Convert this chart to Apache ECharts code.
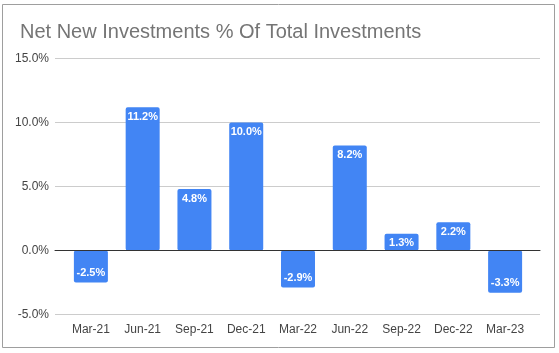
<!DOCTYPE html>
<html><head><meta charset="utf-8">
<script src="https://cdn.jsdelivr.net/npm/echarts@6/dist/echarts.min.js"></script>
<style>html,body{margin:0;padding:0;background:#fff}#c{width:559px;height:353px}</style>
</head><body><div id="c"></div>
<script>
const categories = ['Mar-21','Jun-21','Sep-21','Dec-21','Mar-22','Jun-22','Sep-22','Dec-22','Mar-23'];
const values = [-2.5, 11.2, 4.8, 10.0, -2.9, 8.2, 1.3, 2.2, -3.3];
const yTicks = [-5, 0, 5, 10, 15];

const chart = echarts.init(document.getElementById('c'), null, {renderer:'canvas'});
const font = '"Liberation Sans", Arial, sans-serif';
const TOP = 58.5, BOTTOM = 353 - 314.5;
chart.setOption({
  animation: false,
  title: {
    text: 'Net New Investments % Of Total Investments',
    left: 15, top: 17,
    textStyle: {fontFamily: font, fontSize: 20, fontWeight: 'normal', color: '#757575'}
  },
  graphic: [{
    type: 'rect', shape: {x: 2.5, y: 4.5, width: 552, height: 343},
    style: {fill: 'none', stroke: '#9e9e9e', lineWidth: 1}, silent: true, z: -1
  }],
  grid: [
    {left: 55, right: 19, top: TOP, bottom: BOTTOM},
    {left: 65, right: 28, top: TOP, bottom: BOTTOM}
  ],
  xAxis: [
    {gridIndex: 0, type: 'category', data: [''], axisLine: {show: true, onZero: true, lineStyle: {color: '#333', width: 1}},
     axisTick: {show: false}, axisLabel: {show: false}, z: 5},
    {gridIndex: 1, type: 'category', data: categories, axisLine: {show: false}, axisTick: {show: false},
     axisLabel: {fontFamily: font, fontSize: 12, color: '#444', margin: 9}}
  ],
  yAxis: [
    {gridIndex: 0, type: 'value', min: -5, max: 15, interval: 5,
     axisLine: {show: false}, axisTick: {show: false},
     axisLabel: {fontFamily: font, fontSize: 12, color: '#444', margin: 6,
       formatter: v => yTicks.includes(v) ? v.toFixed(1) + '%' : ''},
     splitLine: {lineStyle: {color: '#cccccc', width: 1}}},
    {gridIndex: 1, type: 'value', min: -5, max: 15, interval: 5, show: false, splitLine: {show: false}}
  ],
  series: [{
    type: 'bar', xAxisIndex: 1, yAxisIndex: 1, barWidth: 34,
    itemStyle: {color: '#4285f4', borderRadius: 2},
    data: values.map(v => ({
      value: v,
      label: {
        show: true,
        position: v >= 0 ? 'insideTop' : 'insideBottom',
        distance: 4,
        color: '#fff', fontFamily: font, fontSize: 11, fontWeight: 'bold',
        formatter: p => p.value.toFixed(1) + '%'
      }
    })),
    z: 3
  }]
});
</script></body></html>
